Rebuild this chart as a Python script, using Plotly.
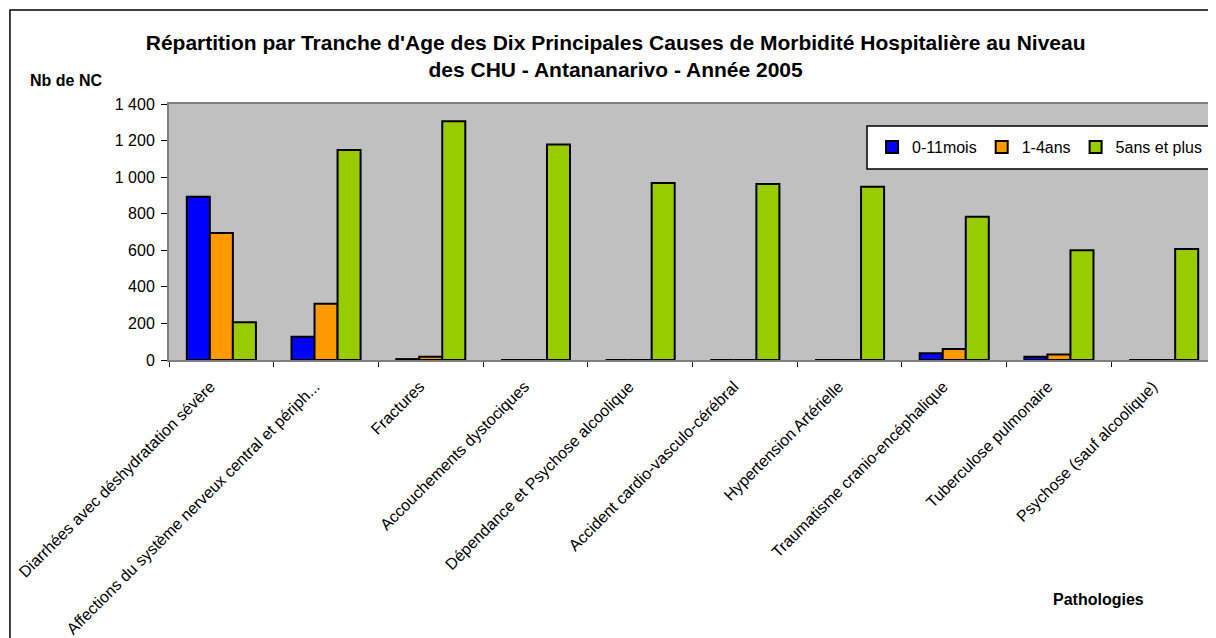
import plotly.graph_objects as go

categories = [
    "Diarrhées avec déshydratation sévère",
    "Affections du système nerveux central et périph...",
    "Fractures",
    "Accouchements dystociques",
    "Dépendance et Psychose alcoolique",
    "Accident cardio-vasculo-cérébral",
    "Hypertension Artérielle",
    "Traumatisme cranio-encéphalique",
    "Tuberculose pulmonaire",
    "Psychose (sauf alcoolique)",
]
s_0_11mois = [893, 127, 5, 0, 0, 0, 0, 37, 18, 0]
s_1_4ans = [695, 308, 18, 0, 0, 0, 0, 60, 30, 0]
s_5ans_plus = [207, 1148, 1305, 1178, 968, 962, 947, 784, 600, 607]
series_names = ["0-11mois", "1-4ans", "5ans et plus"]
series_colors = ["#0000FF", "#FF9900", "#99CC00"]
y_ticks = [0, 200, 400, 600, 800, 1000, 1200, 1400]
y_ticklabels = ["0", "200", "400", "600", "800", "1 000", "1 200", "1 400"]

FONT = "Liberation Sans, Arial, sans-serif"

fig = go.Figure()
for name, vals, col in zip(series_names, [s_0_11mois, s_1_4ans, s_5ans_plus], series_colors):
    fig.add_trace(go.Bar(
        name=name, x=categories, y=vals,
        marker=dict(color=col, line=dict(color="black", width=2)),
    ))

# page body has an 8px margin: figure is sized to fill the rest of the window
fig.update_layout(
    width=1208, height=630,
    margin=dict(l=161, r=0, t=96, b=278, autoexpand=False),
    paper_bgcolor="white",
    plot_bgcolor="#C0C0C0",
    barmode="group",
    bargap=0.34,
    bargroupgap=0,
    font=dict(family=FONT, size=16, color="black"),
    title=dict(
        text="Répartition par Tranche d'Age des Dix Principales Causes de Morbidité Hospitalière au Niveau<br>des CHU - Antananarivo - Année 2005",
        x=0.503, xref="container", xanchor="center",
        y=0.934, yref="container", yanchor="middle",
        font=dict(family=FONT, size=21, color="black", weight="bold"),
    ),
    showlegend=True,
    legend=dict(
        orientation="h",
        x=0.6715, xanchor="left",
        y=0.832, yanchor="middle",
        bgcolor="rgba(0,0,0,0)",
        borderwidth=0,
        font=dict(family=FONT, size=16),
        traceorder="normal",
    ),
    xaxis=dict(
        type="category",
        tickangle=-45,
        tickson="boundaries",
        ticks="outside",
        ticklen=5,
        tickcolor="black",
        ticklabelshift=-11,
        ticklabelstandoff=9,
        showline=True, linecolor="#808080", linewidth=2,
        mirror=True,
        showgrid=False,
        automargin=False,
        tickfont=dict(family=FONT, size=16),
        range=[-0.5, 9.5],
    ),
    yaxis=dict(
        range=[0, 1400],
        tickvals=y_ticks,
        ticktext=y_ticklabels,
        ticks="outside",
        ticklen=6,
        tickcolor="black",
        ticklabelstandoff=3,
        showline=True, linecolor="#808080", linewidth=2,
        mirror=True,
        showgrid=False,
        zeroline=False,
        automargin=False,
        tickfont=dict(family=FONT, size=16),
    ),
)

# legend frame
fig.add_shape(
    type="rect", xref="paper", yref="paper",
    x0=0.6667, x1=1.0, y0=0.746, y1=0.914,
    line=dict(color="black", width=1.5), fillcolor="white", layer="below",
)

fig.add_annotation(
    text="<b>Nb de NC</b>", xref="paper", yref="paper",
    x=-0.1347, y=1.09, xanchor="left", yanchor="middle", showarrow=False,
    font=dict(family=FONT, size=16),
)
fig.add_annotation(
    text="<b>Pathologies</b>", xref="paper", yref="paper",
    x=0.888, y=-0.934, xanchor="center", yanchor="middle", showarrow=False,
    font=dict(family=FONT, size=16),
)
# chart-area border
fig.add_shape(
    type="rect", xref="paper", yref="paper",
    x0=-0.1519, x1=1.1, y0=-1.5, y1=1.367,
    line=dict(color="black", width=1.5), fillcolor="rgba(0,0,0,0)", layer="below",
)

fig.write_html("out.html")
